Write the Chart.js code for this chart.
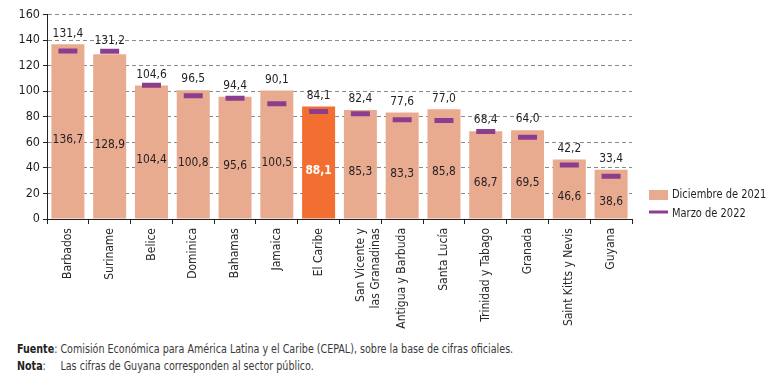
<!DOCTYPE html>
<html>
<head>
<meta charset="utf-8">
<script src="https://cdn.jsdelivr.net/npm/chart.js@4"></script>
<style>
  html, body { margin: 0; padding: 0; background: #fff; }
  body { width: 770px; height: 382px; position: relative; overflow: hidden; }
  #c { position: absolute; left: 0; top: 0; }
  .notes { position: absolute; left: 17px; top: 341px; font-family: "DejaVu Sans Condensed", "Liberation Sans Narrow", sans-serif; font-size: 11.5px; color: #3a3a3a; line-height: 17px; transform-origin: 0 0; white-space: nowrap; }
  .notes .lb { display: inline-block; width: 47px; }
  .notes b { color: #222; }
</style>
</head>
<body>
<canvas id="c" width="770" height="336"></canvas>
<div class="notes" id="notes">
  <div id="n1"><span class="lb"><b>Fuente</b>:</span>Comisión Económica para América Latina y el Caribe (CEPAL), sobre la base de cifras oficiales.</div>
  <div><span class="lb"><b>Nota</b>:</span>Las cifras de Guyana corresponden al sector público.</div>
</div>
<script>
const categories = ["Barbados", "Suriname", "Belice", "Dominica", "Bahamas", "Jamaica", "El Caribe",
  ["San Vicente y", "las Granadinas"], "Antigua y Barbuda", "Santa Lucía", "Trinidad y Tabago", "Granada",
  "Saint Kitts y Nevis", "Guyana"];
const dic2021 = [136.7, 128.9, 104.4, 100.8, 95.6, 100.5, 88.1, 85.3, 83.3, 85.8, 68.7, 69.5, 46.6, 38.6];
const mar2022 = [131.4, 131.2, 104.6, 96.5, 94.4, 90.1, 84.1, 82.4, 77.6, 77.0, 68.4, 64.0, 42.2, 33.4];
const yTicks = [0, 20, 40, 60, 80, 100, 120, 140, 160];
const seriesNames = ["Diciembre de 2021", "Marzo de 2022"];
const highlight = "El Caribe";

const NARROW = '"DejaVu Sans Condensed", "Liberation Sans Narrow", sans-serif';
const SALMON = '#E9AB90', ORANGE = '#F26F31', PURPLE = '#8C3E8E', TXT = '#231F20';
const fmt = v => v.toFixed(1).replace('.', ',');

const barColors = categories.map(c => c === highlight ? ORANGE : SALMON);

// squeeze footnote to the condensed width of the original
(function () {
  const n = document.getElementById('notes');
  const w = document.getElementById('n1').scrollWidth;
  n.style.transform = 'scaleX(' + (496 / w).toFixed(3) + ')';
})();

function squeezeText(ctx, text, x, y, sx) {
  ctx.save();
  ctx.translate(x, y);
  ctx.scale(sx, 1);
  ctx.fillText(text, 0, 0);
  ctx.restore();
}

const labelsPlugin = {
  id: 'valueLabels',
  afterDatasetsDraw(chart) {
    const ctx = chart.ctx;
    const y = chart.scales.y;
    const barMeta = chart.getDatasetMeta(0);
    ctx.save();
    ctx.textAlign = 'center';
    ctx.textBaseline = 'middle';
    barMeta.data.forEach((bar, i) => {
      const x = bar.x;
      const top = y.getPixelForValue(Math.max(dic2021[i], mar2022[i]));
      ctx.font = '12.5px ' + NARROW;
      ctx.fillStyle = TXT;
      squeezeText(ctx, fmt(mar2022[i]), x, top - 11, 0.95);
      const mid = (bar.y + bar.base) / 2 + 8;
      const isHi = categories[i] === highlight;
      ctx.font = (isHi ? 'bold ' : '') + '12.5px ' + NARROW;
      ctx.fillStyle = isHi ? '#ffffff' : TXT;
      squeezeText(ctx, fmt(dic2021[i]), x, mid, 0.95);
    });
    ctx.restore();
  },
  afterDraw(chart) {
    const ctx = chart.ctx;
    const a = chart.chartArea;
    const lx = a.right + 17;
    ctx.save();
    ctx.fillStyle = SALMON;
    ctx.fillRect(lx, a.bottom - 29, 19, 10);
    ctx.strokeStyle = PURPLE;
    ctx.lineWidth = 3;
    ctx.beginPath();
    ctx.moveTo(lx, a.bottom - 7);
    ctx.lineTo(lx + 19, a.bottom - 7);
    ctx.stroke();
    ctx.font = '12.5px ' + NARROW;
    ctx.fillStyle = TXT;
    ctx.textBaseline = 'middle';
    ctx.textAlign = 'left';
    squeezeText(ctx, seriesNames[0], lx + 23, a.bottom - 24, 0.88);
    squeezeText(ctx, seriesNames[1], lx + 23, a.bottom - 5, 0.88);
    ctx.restore();
  }
};

new Chart(document.getElementById('c'), {
  data: {
    labels: categories,
    datasets: [
      {
        type: 'bar', label: seriesNames[0], data: dic2021, order: 2,
        backgroundColor: barColors, barPercentage: 0.79, categoryPercentage: 1.0
      },
      {
        type: 'line', label: seriesNames[1], data: mar2022, order: 1,
        showLine: false, pointStyle: 'line', pointRadius: 9.5, pointHoverRadius: 9.5,
        pointBorderWidth: 5, pointHoverBorderWidth: 5, borderColor: PURPLE, backgroundColor: PURPLE
      }
    ]
  },
  options: {
    responsive: false, animation: false, devicePixelRatio: 1,
    layout: { padding: { left: 0, right: 138, top: 14, bottom: 0 } },
    plugins: { legend: { display: false }, tooltip: { enabled: false } },
    scales: {
      x: {
        offset: true,
        grid: { display: true, drawOnChartArea: false, drawTicks: true, offset: true, tickLength: 5, tickColor: '#222', tickWidth: 1 },
        border: { display: true, color: '#222', width: 1 },
        ticks: {
          minRotation: 90, maxRotation: 90, autoSkip: false, padding: 4,
          color: '#2a2a2a', font: { family: NARROW, size: 12, lineHeight: 1.25 }
        },
        afterFit(s) { s.height = 336 - 219; }
      },
      y: {
        min: 0, max: 160,
        afterBuildTicks(s) { s.ticks = yTicks.map(v => ({ value: v })); },
        grid: { color: '#8a8a8a', tickBorderDash: [0, 0], tickColor: '#222', tickLength: 4, lineWidth: 1 },
        border: { display: true, color: '#222', width: 1, dash: [4, 3] },
        ticks: { padding: 3, color: TXT, font: { family: NARROW, size: 12.5 } },
        afterFit(s) { s.width = 47; }
      }
    }
  },
  plugins: [labelsPlugin]
});
</script>
</body>
</html>
